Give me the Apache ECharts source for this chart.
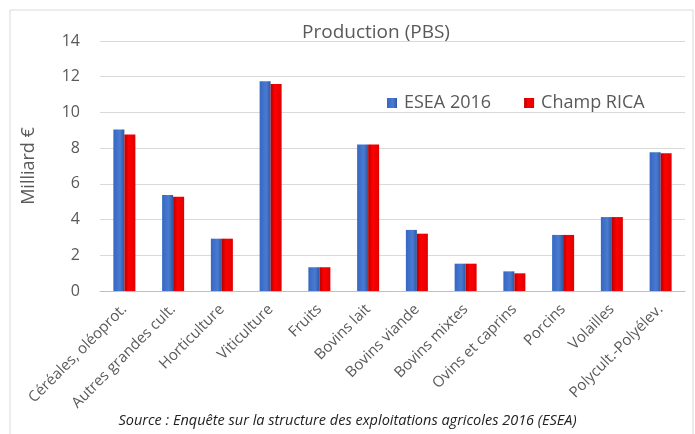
<!DOCTYPE html>
<html style="height: 100%">
<head>
    <meta charset="utf-8">
</head>
<body style="height: 100%; margin: 0; background: #fff">
<div id="production_container" style="height: 434px;width: 695px"></div>
<script src="https://cdn.jsdelivr.net/npm/echarts@6/dist/echarts.min.js"></script>
<script type="text/javascript">
    var categories = ['Céréales, oléoprot.', 'Autres grandes cult.', 'Horticulture', 'Viticulture', 'Fruits',
        'Bovins lait', 'Bovins viande', 'Bovins mixtes', 'Ovins et caprins', 'Porcins', 'Volailles', 'Polycult.-Polyélev.'];
    var esea2016 = [9.05, 5.38, 2.93, 11.74, 1.33, 8.21, 3.42, 1.53, 1.10, 3.14, 4.14, 7.77];
    var champRica = [8.77, 5.28, 2.93, 11.59, 1.33, 8.21, 3.21, 1.53, 0.99, 3.14, 4.14, 7.71];
    var seriesNames = ['ESEA 2016', 'Champ RICA'];

    var production_dom = document.getElementById('production_container');
    var production_chart = echarts.init(production_dom);
    var fontName = '"Open Sans", "Noto Sans", sans-serif';
    var textColor = '#595959';

    var production_option = {
        backgroundColor: '#fff',
        animation: false,
        textStyle: { fontFamily: fontName },
        title: {
            text: 'Production (PBS)',
            left: 371,
            top: 18,
            textAlign: 'center',
            textStyle: { fontSize: 19, fontWeight: 'normal', color: textColor, fontFamily: fontName }
        },
        legend: {
            left: 382,
            top: 89,
            itemWidth: 10,
            itemHeight: 10,
            itemGap: 33,
            icon: 'rect',
            textStyle: { fontSize: 18, color: textColor, padding: [0, 0, 0, 2] },
            data: seriesNames
        },
        graphic: [{
            type: 'rect',
            shape: { x: 10, y: 10, width: 683, height: 430 },
            style: { fill: 'none', stroke: '#d9d9d9', lineWidth: 1 },
            silent: true
        }, {
            type: 'text',
            left: 'center',
            top: 413,
            style: {
                text: 'Source : Enquête sur la structure des exploitations agricoles 2016 (ESEA)',
                font: 'italic 14.5px ' + fontName,
                fill: '#222'
            }
        }],
        grid: { left: 100, right: 10, top: 41, bottom: 143 },
        xAxis: {
            type: 'category',
            data: categories,
            axisLine: { lineStyle: { color: '#bfbfbf' } },
            axisTick: { show: false },
            axisLabel: { rotate: 45, fontSize: 15, color: textColor, interval: 0, margin: 16 }
        },
        yAxis: {
            type: 'value',
            min: 0,
            max: 14,
            interval: 2,
            name: 'Milliard €',
            nameLocation: 'middle',
            nameGap: 62,
            nameTextStyle: { fontSize: 18, color: textColor },
            axisLine: { show: false },
            axisTick: { show: false },
            axisLabel: { fontSize: 16, color: textColor, margin: 20 },
            splitLine: { lineStyle: { color: '#d9d9d9' } }
        },
        series: [{
            name: seriesNames[0],
            type: 'bar',
            data: esea2016,
            barWidth: 11,
            barGap: '0%',
            itemStyle: {
                color: new echarts.graphic.LinearGradient(0, 0, 1, 0, [
                    { offset: 0, color: '#3567c4' },
                    { offset: 0.6, color: '#4a7bd0' },
                    { offset: 1, color: '#2d58a8' }
                ])
            }
        }, {
            name: seriesNames[1],
            type: 'bar',
            data: champRica,
            barWidth: 11,
            itemStyle: {
                color: new echarts.graphic.LinearGradient(0, 0, 1, 0, [
                    { offset: 0, color: '#b80000' },
                    { offset: 0.4, color: '#ff0000' },
                    { offset: 1, color: '#e00000' }
                ])
            }
        }]
    };

    production_chart.setOption(production_option, true);
</script>
</body>
</html>
